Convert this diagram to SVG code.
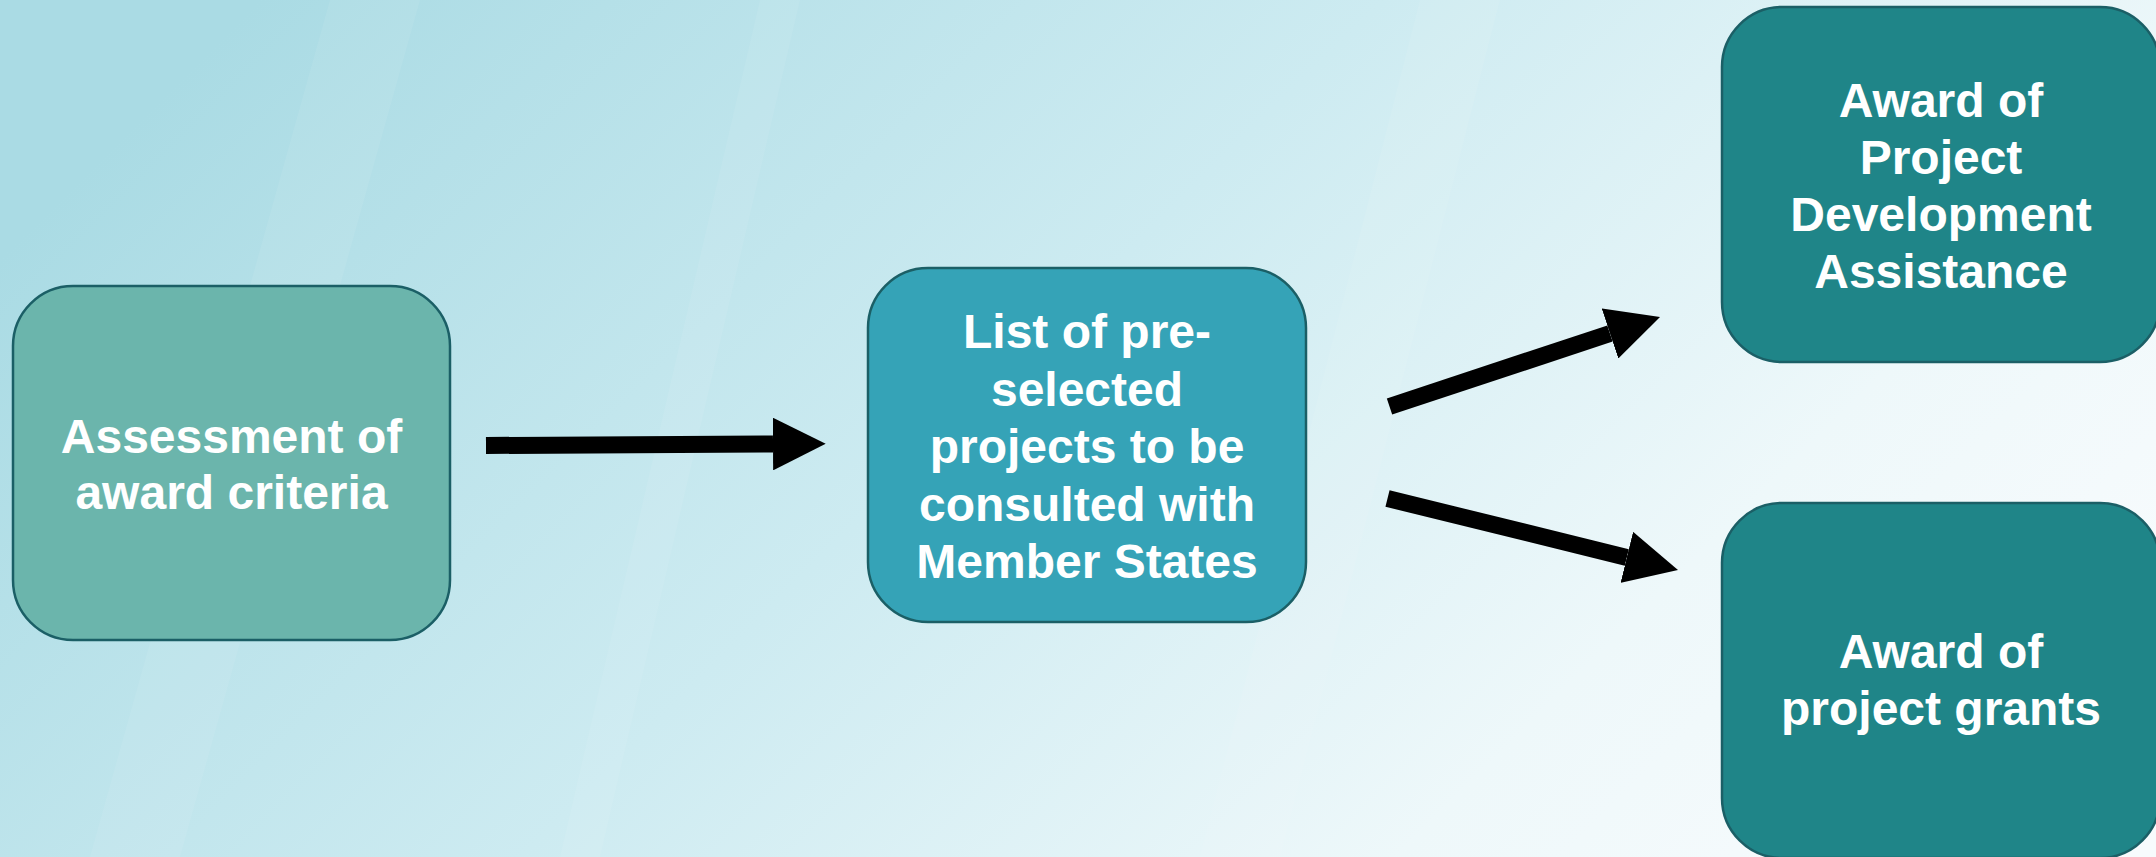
<svg xmlns="http://www.w3.org/2000/svg" width="2156" height="857" viewBox="0 0 2156 857">
<defs>
<linearGradient id="bg" x1="0" y1="0.3" x2="1" y2="0.7">
<stop offset="0" stop-color="#AADBE4"/>
<stop offset="0.45" stop-color="#CDEBF1"/>
<stop offset="0.8" stop-color="#EEF8FA"/>
<stop offset="1" stop-color="#F7FBFD"/>
</linearGradient>
<marker id="ah" viewBox="0 0 3.1 3.1" refX="0" refY="1.55" markerWidth="3.1" markerHeight="3.1" markerUnits="strokeWidth" orient="auto">
<path d="M0,0 L3.1,1.55 L0,3.1 Z" fill="#000"/>
</marker>
</defs>
<style>
.box{stroke:#1B5F66;stroke-width:2.5}
.n1{fill:#6BB5AC}
.n2{fill:#35A3B7}
.n3{fill:#1F8588}
.t{font-family:"Liberation Sans",Arial,sans-serif;font-weight:bold;font-size:48px;fill:#FFFFFF;text-anchor:middle}
.c{stroke:#000;stroke-width:17;stroke-linecap:butt;fill:none;marker-end:url(#ah)}
</style>
<rect x="0" y="0" width="2156" height="857" fill="url(#bg)"/>
<g opacity="0.07" fill="#FFFFFF">
<polygon points="90,857 330,0 420,0 180,857"/>
<polygon points="560,857 760,0 800,0 600,857"/>
<polygon points="1200,857 1420,0 1500,0 1280,857"/>
</g>
<g id="connectors">
<line class="c" x1="486" y1="445.5" x2="773" y2="444"/>
<line class="c" x1="1389.5" y1="406.5" x2="1610" y2="333.5"/>
<line class="c" x1="1387.5" y1="498.5" x2="1626.8" y2="557.4"/>
</g>
<g id="node-assessment">
<rect class="box n1" x="13" y="286" width="437" height="354" rx="60" ry="60"/>
<text class="t" x="231.5" y="453">Assessment of</text>
<text class="t" x="231.5" y="509">award criteria</text>
</g>
<g id="node-list">
<rect class="box n2" x="868" y="268" width="438" height="354" rx="60" ry="60"/>
<text class="t" x="1087" y="348">List of pre-</text>
<text class="t" x="1087" y="406">selected</text>
<text class="t" x="1087" y="463">projects to be</text>
<text class="t" x="1087" y="521">consulted with</text>
<text class="t" x="1087" y="578">Member States</text>
</g>
<g id="node-pda">
<rect class="box n3" x="1722" y="7" width="438" height="355" rx="60" ry="60"/>
<text class="t" x="1941" y="117">Award of</text>
<text class="t" x="1941" y="174">Project</text>
<text class="t" x="1941" y="231">Development</text>
<text class="t" x="1941" y="288">Assistance</text>
</g>
<g id="node-grants">
<rect class="box n3" x="1722" y="503" width="438" height="355" rx="60" ry="60"/>
<text class="t" x="1941" y="668">Award of</text>
<text class="t" x="1941" y="725">project grants</text>
</g>
</svg>
